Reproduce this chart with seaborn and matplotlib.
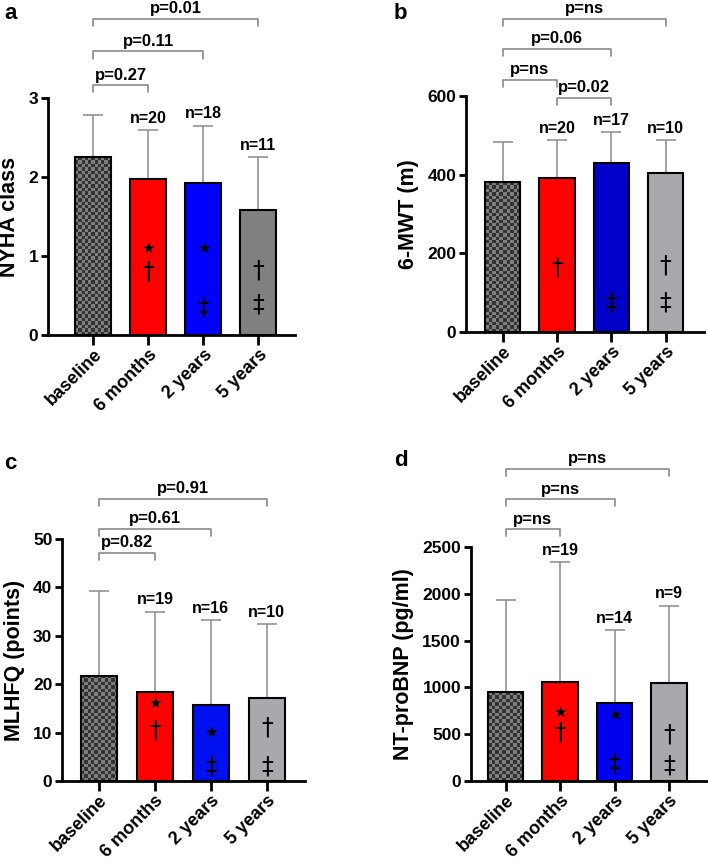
import numpy as np
import pandas as pd
import matplotlib
matplotlib.use("Agg")
import matplotlib.pyplot as plt
from matplotlib.colors import ListedColormap
import seaborn as sns

# categories shared by all panels
groups = ["baseline", "6 months", "2 years", "5 years"]

# panel a: NYHA class (mean, SD)
nyha_mean = [2.25, 1.97, 1.93, 1.58]
nyha_sd = [0.53, 0.62, 0.72, 0.67]
nyha_n = ["", "n=20", "n=18", "n=11"]
nyha_p = [(0, 1, "p=0.27", 3.16), (0, 2, "p=0.11", 3.59), (0, 3, "p=0.01", 4.0)]
nyha_marks = [[], [("★", 1.1), ("†", 0.8)], [("★", 1.1), ("‡", 0.35)], [("†", 0.82), ("‡", 0.38)]]

# panel b: 6-minute walk test
mwt_mean = [380, 390, 430, 405]
mwt_sd = [103, 98, 78, 82]
mwt_n = ["", "n=20", "n=17", "n=10"]
mwt_p = [(0, 1, "p=ns", 640), (1, 2, "p=0.02", 595), (0, 2, "p=0.06", 720), (0, 3, "p=ns", 796)]
mwt_marks = [[], [("†", 165)], [("‡", 75)], [("†", 170), ("‡", 75)]]

# panel c: MLHFQ
mlhfq_mean = [21.7, 18.3, 15.6, 17.1]
mlhfq_sd = [17.6, 16.7, 17.7, 15.4]
mlhfq_n = ["", "n=19", "n=16", "n=10"]
mlhfq_p = [(0, 1, "p=0.82", 47.1), (0, 2, "p=0.61", 52.1), (0, 3, "p=0.91", 58.3)]
mlhfq_marks = [[], [("★", 16), ("†", 10.5)], [("★", 10), ("‡", 3)], [("†", 11), ("‡", 3)]]

# panel d: NT-proBNP
bnp_mean = [950, 1055, 830, 1050]
bnp_sd = [980, 1285, 780, 825]
bnp_n = ["", "n=19", "n=14", "n=9"]
bnp_p = [(0, 1, "p=ns", 2689), (0, 2, "p=ns", 3009), (0, 3, "p=ns", 3336)]
bnp_marks = [[], [("★", 730), ("†", 520)], [("★", 700), ("‡", 190)], [("†", 500), ("‡", 170)]]

sns.set_style("ticks")
plt.rcParams["font.family"] = ["Liberation Sans", "DejaVu Sans"]
plt.rcParams["font.weight"] = "bold"
for k in ("text.color", "axes.labelcolor", "xtick.color", "ytick.color", "axes.edgecolor"):
    plt.rcParams[k] = "black"

fig = plt.figure(figsize=(7.08, 8.65), dpi=100)

GRAY = "#8a8a8a"


def checker(ax, patch, cell=3.4):
    x0, y0 = patch.get_x(), patch.get_y()
    w, h = patch.get_width(), patch.get_height()
    p0 = ax.transData.transform((x0, y0))
    p1 = ax.transData.transform((x0 + w, y0 + h))
    nx = max(1, int(round((p1[0] - p0[0]) / cell)))
    ny = max(1, int(round((p1[1] - p0[1]) / cell)))
    grid = np.add.outer(np.arange(ny), np.arange(nx)) % 2
    im = ax.imshow(grid, cmap=ListedColormap(["#333333", "#7e7e7e"]),
                   extent=(x0, x0 + w, y0, y0 + h), aspect="auto",
                   interpolation="nearest", origin="lower", zorder=1.5)
    im.set_clip_path(patch)
    patch.set_facecolor("none")
    patch.set_zorder(2)


def panel(rect, mean, sd, nlab, pvals, marks, colors, ylabel, yticks, xlim, letter, letter_pos):
    ax = fig.add_axes(rect)
    df = pd.DataFrame({"group": groups, "value": mean})
    sns.barplot(data=df, x="group", y="value", hue="group", palette=colors,
                saturation=1, width=0.65, legend=False, ax=ax, zorder=2)
    for p in ax.patches:
        p.set_edgecolor("black")
        p.set_linewidth(1.5)
    ax.errorbar(range(len(groups)), mean, yerr=[np.zeros(len(sd)), sd], fmt="none",
                ecolor=GRAY, elinewidth=1.1, capsize=7, capthick=1.1, zorder=1)
    ymax = yticks[-1]
    ax.set_ylim(0, ymax)
    ax.set_xlim(*xlim)
    ax.set_yticks(yticks)
    checker(ax, ax.patches[0])
    ax.set_xlim(*xlim)
    ax.set_ylim(0, ymax)

    for i, lab in enumerate(nlab):
        if lab:
            ax.annotate(lab, (i, mean[i] + sd[i]), xytext=(0, 3), textcoords="offset points",
                        ha="center", va="bottom", fontsize=11.5, fontweight="bold")
    for i, ms in enumerate(marks):
        for sym, yv in ms:
            fs = 11 if sym == "★" else 17
            ax.text(i, yv, sym, ha="center", va="center", fontsize=fs,
                    fontweight="normal", color="black", zorder=4,
                    family=["DejaVu Sans"])

    leg = 0.03 * ymax
    for a, b, txt, yv in pvals:
        ax.plot([a, a, b, b], [yv - leg, yv, yv, yv - leg], color=GRAY, lw=1.2,
                clip_on=False, zorder=3)
        ax.annotate(txt, ((a + b) / 2, yv), xytext=(0, 2), textcoords="offset points",
                    ha="center", va="bottom", fontsize=12, fontweight="bold",
                    annotation_clip=False)

    sns.despine(ax=ax)
    for s in ("left", "bottom"):
        ax.spines[s].set_linewidth(2)
    ax.tick_params(axis="y", length=5, width=2, labelsize=12.5, pad=2)
    ax.tick_params(axis="x", length=7, width=2, labelsize=13, pad=1)
    ax.set_xticks(range(len(groups)))
    ax.set_xticklabels(groups, rotation=45, ha="right", va="top", rotation_mode="anchor",
                       fontweight="bold")
    for t in ax.get_yticklabels():
        t.set_fontweight("bold")
    ax.set_xlabel("")
    ax.set_ylabel(ylabel, fontsize=15.5, fontweight="bold", labelpad=6)
    fig.text(letter_pos[0], letter_pos[1], letter, fontsize=16, fontweight="bold",
             ha="left", va="top")
    return ax


panel([0.068, 0.6127, 0.349, 0.274], nyha_mean, nyha_sd, nyha_n, nyha_p, nyha_marks,
      ["#5a5a5a", "#ff0000", "#0000ff", "#808080"], "NYHA class", [0, 1, 2, 3],
      (-0.82, 3.67), "a", (0.006, 0.997))
panel([0.658, 0.6162, 0.336, 0.273], mwt_mean, mwt_sd, mwt_n, mwt_p, mwt_marks,
      ["#5a5a5a", "#ff0000", "#0000c8", "#a9a9ad"], "6-MWT (m)", [0, 200, 400, 600],
      (-0.68, 3.70), "b", (0.556, 0.997))
panel([0.0876, 0.0971, 0.343, 0.2798], mlhfq_mean, mlhfq_sd, mlhfq_n, mlhfq_p, mlhfq_marks,
      ["#5a5a5a", "#ff0000", "#0010f0", "#a9a9ad"], "MLHFQ (points)", [0, 10, 20, 30, 40, 50],
      (-0.66, 3.68), "c", (0.006, 1 - 453 / 865))
panel([0.665, 0.0971, 0.334, 0.2705], bnp_mean, bnp_sd, bnp_n, bnp_p, bnp_marks,
      ["#5a5a5a", "#ff0000", "#0000f0", "#a9a9ad"], "NT-proBNP (pg/ml)",
      [0, 500, 1000, 1500, 2000, 2500], (-0.64, 3.70), "d", (0.556, 1 - 450 / 865))

fig.savefig("out.png", dpi=100)
